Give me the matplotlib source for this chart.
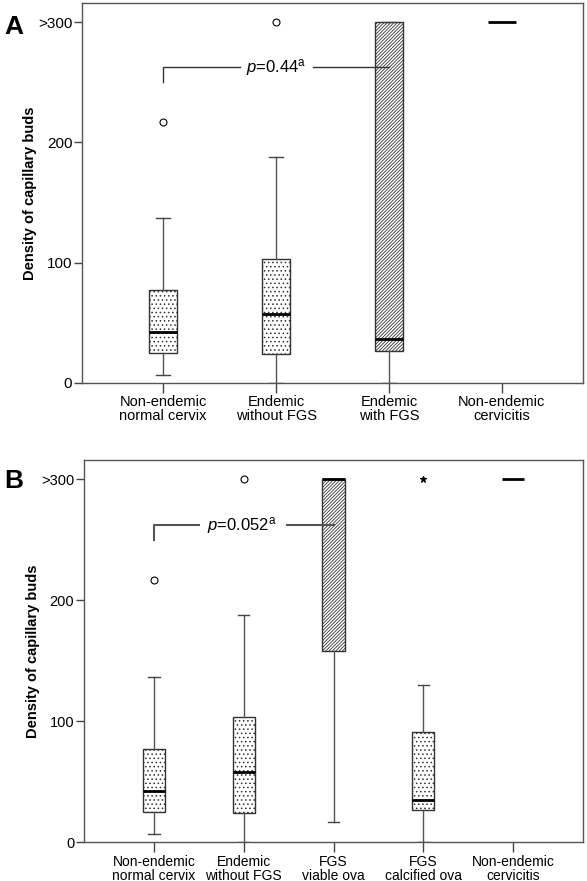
import matplotlib
matplotlib.use("Agg")
import matplotlib.pyplot as plt

plt.rcParams['font.family'] = ['Liberation Sans', 'DejaVu Sans']
plt.rcParams['mathtext.fontset'] = 'custom'
plt.rcParams['mathtext.rm'] = 'Liberation Sans'
plt.rcParams['mathtext.it'] = 'Liberation Sans:italic'
plt.rcParams['hatch.linewidth'] = 0.6

# panel A data (box statistics)
labels_a = ["Non-endemic\nnormal cervix", "Endemic\nwithout FGS", "Endemic\nwith FGS", "Non-endemic\ncervicitis"]
med_a = [42.5, 57.5, 37, 300]
q1_a = [25, 24, 26.7, 300]
q3_a = [77.7, 103, 300, 300]
lo_a = [6.5, 0, 0, 300]
hi_a = [137, 188, 300, 300]
fl_a = [[217], [300], [], []]
hatch_a = ["....", "....", "//////////", ""]

# panel B data
labels_b = ["Non-endemic\nnormal cervix", "Endemic\nwithout FGS", "FGS\nviable ova", "FGS\ncalcified ova", "Non-endemic\ncervicitis"]
med_b = [42.5, 57.5, 300, 34.7, 300]
q1_b = [24.8, 24, 158, 26.7, 300]
q3_b = [77, 103, 300, 91, 300]
lo_b = [6.3, 0, 16.8, 0, 300]
hi_b = [136.6, 188, 300, 129.5, 300]
fl_b = [[216.5], [300], [], [300], []]
star_b = [False, False, False, True, False]
hatch_b = ["....", "....", "//////////", "....", ""]

p_a = r"$\it{p}$=0.44$^{\rm a}$"
p_b = r"$\it{p}$=0.052$^{\rm a}$"

fig = plt.figure(figsize=(5.87, 8.81), dpi=100)
ax_a = fig.add_axes([82/587, 1-383/881, 501/587, 380/881])
ax_b = fig.add_axes([84/587, 1-842/881, 499/587, 382/881])


def draw_panel(ax, labels, med, q1, q3, lo, hi, fl, hatches, stars, bw, cw, fs):
    n = len(labels)
    stats = []
    for i in range(n):
        stats.append(dict(med=med[i], q1=q1[i], q3=q3[i], whislo=lo[i], whishi=hi[i], fliers=fl[i]))
    res = ax.bxp(stats, positions=range(1, n+1), widths=bw, capwidths=cw, patch_artist=True,
                 boxprops=dict(facecolor="white", edgecolor="#333333", linewidth=1.0),
                 medianprops=dict(color="black", linewidth=2.0),
                 whiskerprops=dict(color="#555555", linewidth=1.0),
                 capprops=dict(color="#444444", linewidth=1.0),
                 flierprops=dict(marker="o", markersize=5, markerfacecolor="none",
                                 markeredgecolor="black", markeredgewidth=0.8))
    for i, b in enumerate(res["boxes"]):
        b.set_hatch(hatches[i])
        if hatches[i] == "":
            b.set_visible(False)
    for i, f in enumerate(res["fliers"]):
        if stars[i]:
            f.set_marker("*")
            f.set_markerfacecolor("black")
            f.set_markersize(5)
    # single-value groups show only the median bar
    for i in range(n):
        if q1[i] == q3[i]:
            res["caps"][2*i].set_visible(False)
            res["caps"][2*i+1].set_visible(False)
    ax.set_xlim(0.25, n + 0.75)
    ax.set_ylim(0, 316)
    ax.set_yticks([0, 100, 200, 300])
    ax.set_yticklabels(["0", "100", "200", ">300"], fontsize=fs + 0.5)
    ax.set_xticks(range(1, n+1))
    ax.set_xticklabels(labels, fontsize=fs, linespacing=1.0)
    ax.tick_params(axis="y", length=6, width=1, color="#444444", pad=1)
    ax.tick_params(axis="x", length=7, width=1, color="#444444", pad=2)
    for s in ax.spines.values():
        s.set_color("#555555")
        s.set_linewidth(1.0)
    ax.set_ylabel("Density of capillary buds", fontsize=10.5, fontweight="bold", labelpad=1)


draw_panel(ax_a, labels_a, med_a, q1_a, q3_a, lo_a, hi_a, fl_a, hatch_a, [False]*4, 0.25, 0.125, 10.5)
ax_a.set_xlim(0.28, 4.72)
draw_panel(ax_b, labels_b, med_b, q1_b, q3_b, lo_b, hi_b, fl_b, hatch_b, star_b, 0.25, 0.125, 10)
ax_b.set_xlim(0.22, 5.78)

# significance brackets
ax_a.plot([1, 1, 1.68], [250, 262.5, 262.5], color="#333333", lw=1.0)
ax_a.plot([2.33, 3.0], [262.5, 262.5], color="#333333", lw=1.0)
ax_a.text(2.0, 262.5, p_a, ha="center", va="center", fontsize=12)

ax_b.plot([1, 1, 1.5], [250, 262, 262], color="#555555", lw=1.5)
ax_b.plot([2.48, 3.0], [262, 262], color="#555555", lw=1.5)
ax_b.text(1.98, 262, p_b, ha="center", va="center", fontsize=12)

fig.text(0.008, 1-34/881, "A", fontsize=19, fontweight="bold")
fig.text(0.008, 1-488/881, "B", fontsize=19, fontweight="bold")

fig.savefig("out.png", dpi=100)
